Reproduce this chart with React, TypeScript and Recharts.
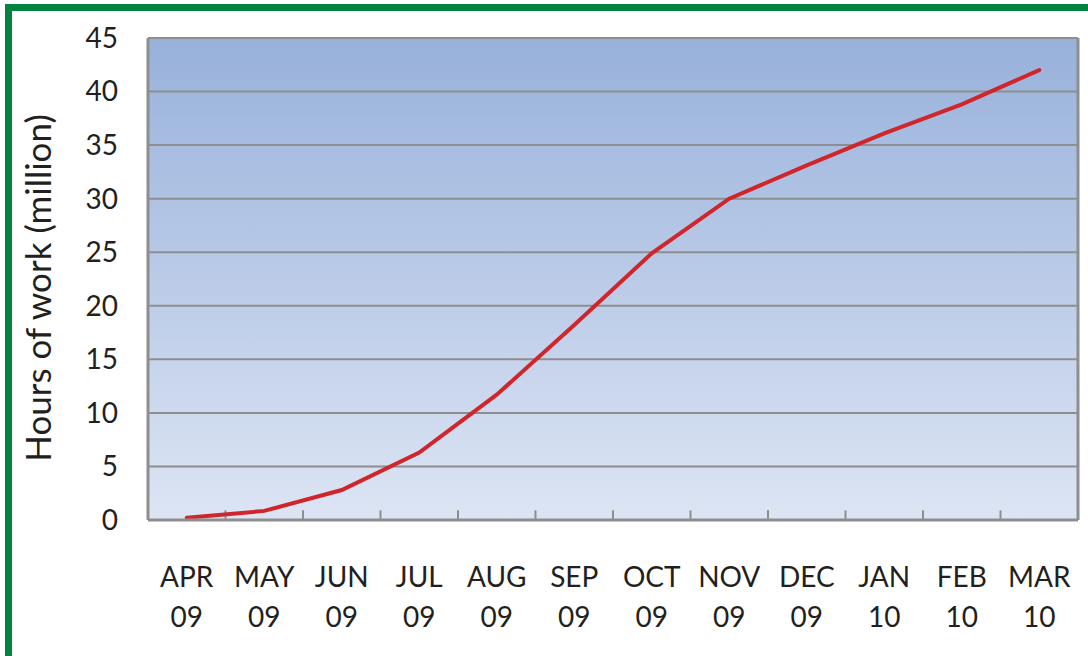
import { LineChart, Line, XAxis, YAxis, CartesianGrid, ReferenceLine } from 'recharts'

const months = ['APR 09', 'MAY 09', 'JUN 09', 'JUL 09', 'AUG 09', 'SEP 09', 'OCT 09', 'NOV 09', 'DEC 09', 'JAN 10', 'FEB 10', 'MAR 10']
const hours = [0.2, 0.85, 2.8, 6.3, 11.7, 18.2, 24.9, 30.0, 33.1, 36.1, 38.8, 42.0]
const yTicks = [0, 5, 10, 15, 20, 25, 30, 35, 40, 45]

const data = months.map((m, i) => ({ month: m, hours: hours[i] }))

const FONT = 'Lato, "Open Sans", sans-serif'
const TEXT = '#231f20'
const AXIS = '#8e8e8e'
// height of the small category-boundary ticks, in axis units
const TICK_UNITS = 0.9

const MonthTick = ({ x, y, payload }: any) => {
  const [m, yr] = String(payload.value).split(' ')
  return (
    <text x={x} y={y} textAnchor="middle" fill={TEXT} fontSize={28} fontFamily={FONT}>
      <tspan x={x} dy={65}>{m}</tspan>
      <tspan x={x} dy={40}>{yr}</tspan>
    </text>
  )
}

export default function App() {
  return (
    <div style={{ position: 'absolute', left: 0, top: 0, width: 1088, height: 656, background: 'white', overflow: 'hidden' }}>
      {/* green frame, cropped on the right */}
      <div style={{
        position: 'absolute', left: 5, top: 4, width: 1200, height: 645,
        borderTop: '7px solid #00843f', borderLeft: '7px solid #00843f', borderBottom: '4px solid #00843f',
      }} />
      <div style={{ position: 'absolute', left: 0, top: 0 }}>
        <LineChart width={1088} height={656} data={data} margin={{ top: 38, right: 10, left: 88, bottom: 0 }}>
          <defs>
            <linearGradient id="plotBg" x1="0" y1="0" x2="0" y2="1">
              <stop offset="0%" stopColor="#98b1db" />
              <stop offset="100%" stopColor="#dde5f4" />
            </linearGradient>
          </defs>
          <CartesianGrid vertical={false} fill="url(#plotBg)" fillOpacity={1} stroke={AXIS} strokeWidth={2} />
          <XAxis
            dataKey="month"
            scale="band"
            height={136}
            interval={0}
            tickLine={false}
            tickSize={0}
            tick={<MonthTick />}
            axisLine={{ stroke: AXIS, strokeWidth: 3 }}
          />
          <YAxis
            width={60}
            domain={[0, 45]}
            ticks={yTicks}
            interval={0}
            tickLine={false}
            tickSize={0}
            tickMargin={30}
            axisLine={{ stroke: AXIS, strokeWidth: 3 }}
            tick={{ fill: TEXT, fontSize: 28, fontFamily: FONT }}
            label={() => (
              <text
                x={37}
                y={288}
                transform="rotate(-90, 37, 288)"
                textAnchor="middle"
                dominantBaseline="central"
                fill={TEXT}
                fontSize={35}
                fontFamily={FONT}
              >
                Hours of work (million)
              </text>
            )}
          />
          {/* tick marks between categories, Excel style */}
          {months.slice(0, -1).map(m => (
            <ReferenceLine
              key={m}
              segment={[{ x: m, y: 0 }, { x: m, y: TICK_UNITS }]}
              position="end"
              stroke={AXIS}
              strokeWidth={2}
            />
          ))}
          {/* right edge of the plot frame */}
          <ReferenceLine x={months[months.length - 1]} position="end" stroke={AXIS} strokeWidth={3} />
          <Line
            type="linear"
            dataKey="hours"
            stroke="#d0262b"
            strokeWidth={4}
            strokeLinecap="round"
            dot={false}
            activeDot={false}
            isAnimationActive={false}
          />
        </LineChart>
      </div>
    </div>
  )
}
